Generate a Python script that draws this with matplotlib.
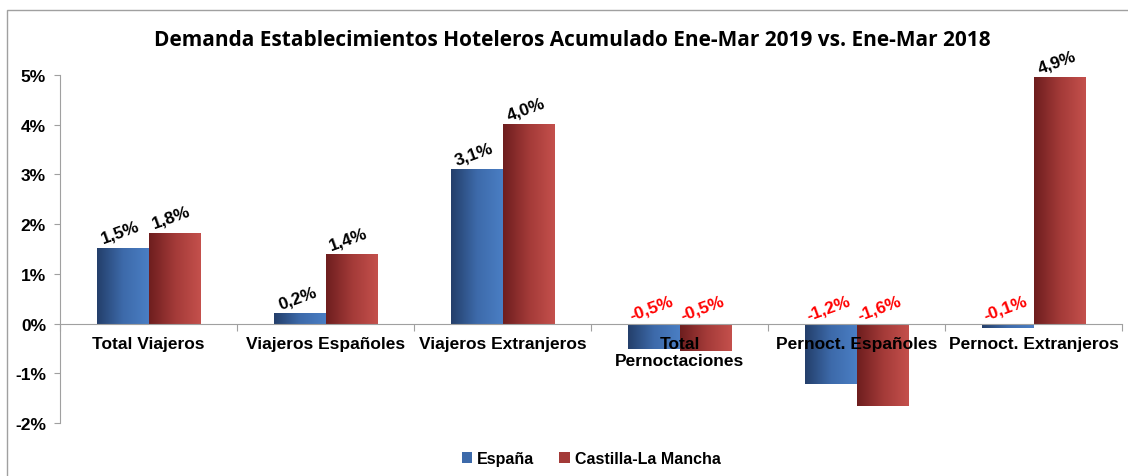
#!/usr/bin/env python3

# Demanda hotelera - variacion acumulada Ene-Mar 2019 vs 2018
import numpy as np
import matplotlib
matplotlib.use('Agg')
import matplotlib.pyplot as plt
from matplotlib.colors import LinearSegmentedColormap
from matplotlib.patches import Rectangle

# data (variacion %)
categorias = ['Total Viajeros', 'Viajeros Españoles', 'Viajeros Extranjeros',
              'Total\nPernoctaciones', 'Pernoct. Españoles', 'Pernoct. Extranjeros']
espana = [1.53, 0.21, 3.11, -0.52, -1.22, -0.08]
clm = [1.83, 1.39, 4.02, -0.55, -1.66, 4.95]
etiq_espana = ['1,5%', '0,2%', '3,1%', '-0,5%', '-1,2%', '-0,1%']
etiq_clm = ['1,8%', '1,4%', '4,0%', '-0,5%', '-1,6%', '4,9%']
series = ['España', 'Castilla-La Mancha']

plt.rcParams['font.family'] = ['Liberation Sans', 'DejaVu Sans']

fig = plt.figure(figsize=(11.28, 4.77), dpi=100)
ax = fig.add_axes([0.0532, 0.1111, 0.9415, 0.7296])

cmap_blue = LinearSegmentedColormap.from_list('b', ['#243F6B', '#3D6AAA', '#4A7EC4'])
cmap_red = LinearSegmentedColormap.from_list('r', ['#6E1E1E', '#A33A38', '#C4504C'])
grad = np.linspace(0, 1, 64).reshape(1, -1)

x = np.arange(len(categorias))
w = 0.29
bars_e = ax.bar(x - w / 2, espana, w, color='#3D6AAA', label=series[0], zorder=2)
bars_c = ax.bar(x + w / 2, clm, w, color='#A33A38', label=series[1], zorder=2)

# gradient fill on each bar
for bars, cm in ((bars_e, cmap_blue), (bars_c, cmap_red)):
    for b in bars:
        x0, y0 = b.get_x(), b.get_y()
        x1, y1 = x0 + b.get_width(), y0 + b.get_height()
        im = ax.imshow(grad, cmap=cm, aspect='auto', extent=(x0, x1, min(y0, y1), max(y0, y1)),
                       zorder=3, interpolation='bilinear')
        im.set_clip_path(b)

# data labels
for bars, labs in ((bars_e, etiq_espana), (bars_c, etiq_clm)):
    for b, lab in zip(bars, labs):
        h = b.get_height()
        cx = b.get_x() + b.get_width() / 2
        col = 'black' if h >= 0 else 'red'
        ypos = max(h, 0) + 0.17
        ax.text(cx, ypos, lab, rotation=20, ha='center', va='bottom', fontsize=12.5,
                fontweight='bold', color=col, rotation_mode='anchor', zorder=5)

ax.set_xlim(-0.5, len(categorias) - 0.5)
ax.set_ylim(-2, 5)
ax.set_yticks(range(-2, 6))
ax.set_yticklabels([f'{v}%' for v in range(-2, 6)], fontsize=12.5, fontweight='bold')
ax.tick_params(axis='y', length=4, color='#A0A0A0', pad=6)

# category axis at 0
ax.spines['bottom'].set_position(('data', 0))
ax.spines['bottom'].set_color('#A0A0A0')
ax.spines['bottom'].set_zorder(4)
ax.spines['left'].set_color('#A0A0A0')
ax.spines['top'].set_visible(False)
ax.spines['right'].set_visible(False)
ax.set_xticks(np.arange(-0.5, len(categorias)), labels=[])
ax.tick_params(axis='x', which='major', length=5, color='#A0A0A0')

# category names drawn on top of the bars
for xi, cat in zip(x, categorias):
    ax.annotate(cat, (xi, 0), xytext=(0, -9), textcoords='offset points', ha='center', va='top',
                fontsize=12.5, fontweight='bold', zorder=6, linespacing=1.15)

fig.text(0.507, 0.915, 'Demanda Establecimientos Hoteleros Acumulado Ene-Mar 2019 vs. Ene-Mar 2018',
         ha='center', va='center', fontsize=15, fontweight='bold', family='Open Sans')

ax.legend(loc='center', bbox_to_anchor=(0.5, -0.103), ncol=2, frameon=False,
          prop={'weight': 'bold', 'size': 11.5}, handlelength=0.65, handleheight=0.65,
          columnspacing=1.6, handletextpad=0.3)

# chart border
fig.patches.append(Rectangle((7 / 1128, -0.1), 1.2, (477 - 11) / 477 + 0.1, transform=fig.transFigure,
                             fill=False, edgecolor='#A0A0A0', linewidth=1))

fig.savefig('out.png', dpi=100)
